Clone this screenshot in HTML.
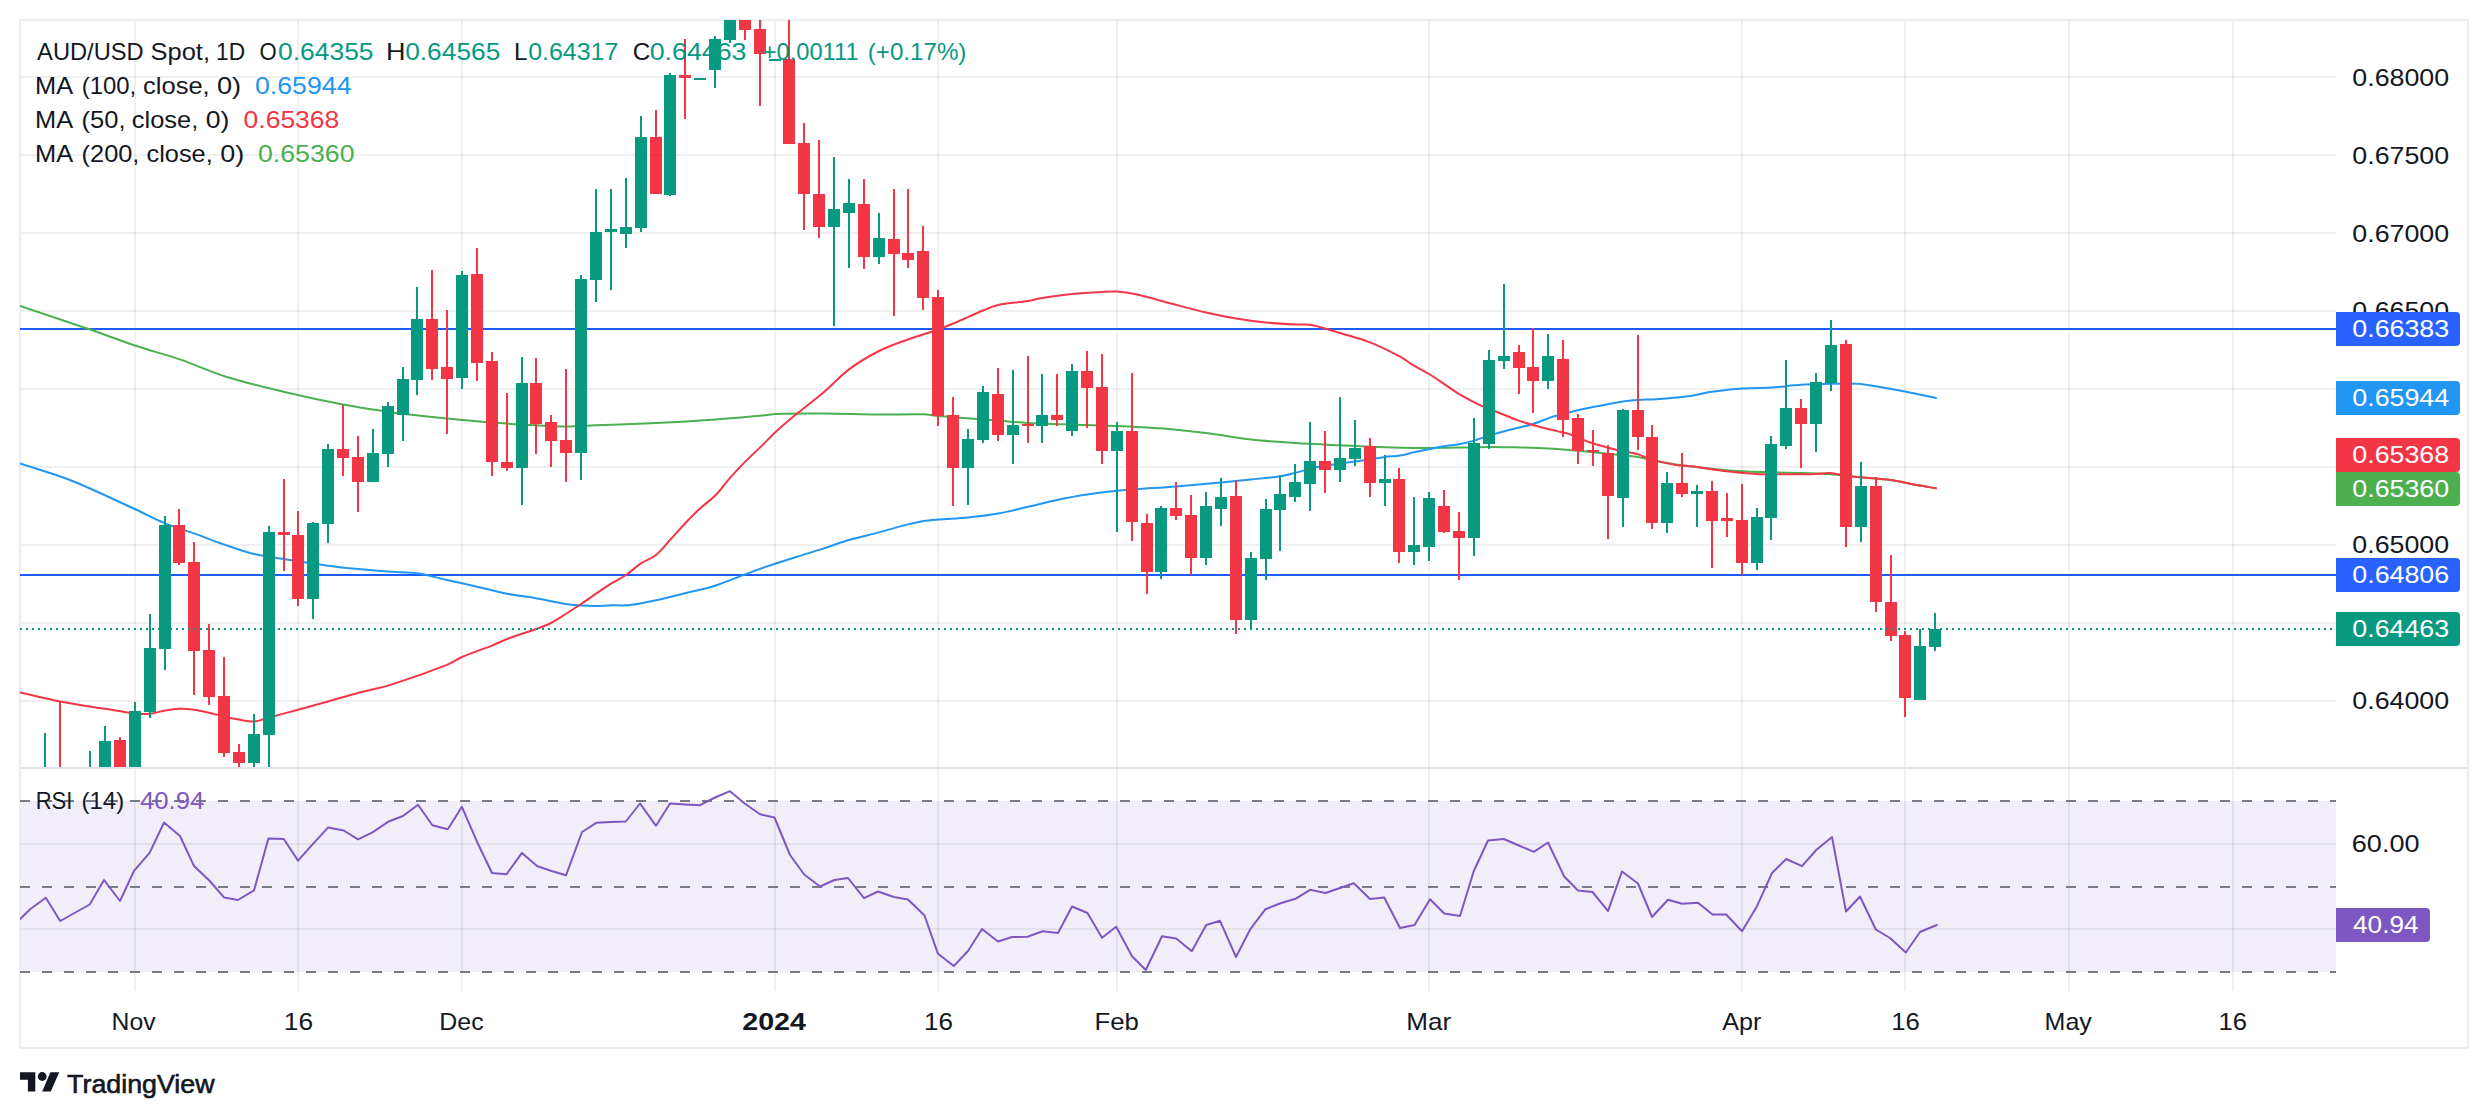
<!DOCTYPE html>
<html lang="en"><head><meta charset="utf-8"><title>AUD/USD Spot 1D chart</title>
<style>html,body{margin:0;padding:0;background:#fff;}body{width:2488px;height:1118px;overflow:hidden;}svg{display:block;}text{font-family:"Liberation Sans", Arial, sans-serif;}</style>
</head><body>
<svg width="2488" height="1118" viewBox="0 0 2488 1118">
<defs><clipPath id="main"><rect x="20" y="20" width="2316" height="747"/></clipPath><clipPath id="rsi"><rect x="20" y="768" width="2316" height="223"/></clipPath></defs>
<rect width="2488" height="1118" fill="#fff"/>
<rect x="20" y="801" width="2316" height="171" fill="#f1eefa"/>
<g fill="#000" fill-opacity="0.06" shape-rendering="crispEdges"><rect x="134" y="20" width="2" height="971" /><rect x="297" y="20" width="2" height="971" /><rect x="461" y="20" width="2" height="971" /><rect x="774" y="20" width="2" height="971" /><rect x="937" y="20" width="2" height="971" /><rect x="1116" y="20" width="2" height="971" /><rect x="1428" y="20" width="2" height="971" /><rect x="1741" y="20" width="2" height="971" /><rect x="1904" y="20" width="2" height="971" /><rect x="2068" y="20" width="2" height="971" /><rect x="2232" y="20" width="2" height="971" /><rect x="20" y="76" width="2316" height="2"/><rect x="20" y="154" width="2316" height="2"/><rect x="20" y="232" width="2316" height="2"/><rect x="20" y="310" width="2316" height="2"/><rect x="20" y="388" width="2316" height="2"/><rect x="20" y="466" width="2316" height="2"/><rect x="20" y="544" width="2316" height="2"/><rect x="20" y="622" width="2316" height="2"/><rect x="20" y="700" width="2316" height="2"/><rect x="20" y="843" width="2316" height="2"/><rect x="20" y="928" width="2316" height="2"/></g>
<g fill="#ecedf2" shape-rendering="crispEdges">
<rect x="19" y="19" width="2450" height="2"/>
<rect x="19" y="1047" width="2450" height="2"/>
<rect x="19" y="19" width="2" height="1030"/>
<rect x="2467" y="19" width="2" height="1030"/>
</g>
<rect x="21" y="767" width="2446" height="2" fill="#e0e3eb" shape-rendering="crispEdges"/>
<g fill="#1e5bfe" shape-rendering="crispEdges"><rect x="20" y="328" width="2316" height="2"/><rect x="20" y="574" width="2316" height="2"/></g>
<path clip-path="url(#main)" d="M20.0 306.0C43.3 313.8 66.7 321.5 90.0 329.5C104.9 334.6 119.9 340.5 134.8 345.5C149.8 350.5 164.7 354.3 179.7 359.4C195.1 364.7 210.6 371.9 226.0 376.7C245.5 382.8 265.1 387.3 284.6 392.0C304.0 396.6 323.4 400.8 342.8 404.6C356.1 407.2 369.4 408.8 382.7 411.0C385.8 411.5 388.9 412.2 392.0 412.6C410.3 414.8 428.7 416.8 447.0 418.6C462.0 420.1 477.0 421.5 492.0 422.6C506.7 423.7 521.3 424.5 536.0 425.3C545.9 425.8 555.8 426.6 565.7 426.6C575.8 426.6 585.9 425.7 596.0 425.3C616.0 424.5 636.0 423.9 656.0 423.0C673.3 422.2 690.7 421.2 708.0 420.0C726.7 418.7 745.3 417.0 764.0 415.3C767.9 415.0 771.7 414.1 775.6 414.0C791.7 413.5 807.9 413.5 824.0 413.6C842.3 413.7 860.7 414.5 879.0 414.6C893.9 414.7 908.8 413.9 923.7 414.3C928.5 414.4 933.2 415.6 938.0 416.0C946.6 416.8 955.1 417.3 963.7 418.0C975.1 418.9 986.6 419.7 998.0 420.6C1008.0 421.4 1018.0 422.4 1028.0 423.0C1039.8 423.7 1051.7 423.9 1063.5 424.3C1076.3 424.8 1089.2 425.1 1102.0 425.6C1113.3 426.0 1124.7 426.4 1136.0 427.0C1147.0 427.6 1158.0 428.1 1169.0 429.0C1181.3 430.1 1193.7 431.4 1206.0 433.0C1221.0 434.9 1236.0 437.9 1251.0 439.6C1265.7 441.2 1280.3 442.1 1295.0 443.0C1310.0 444.0 1325.0 444.6 1340.0 445.3C1355.0 446.0 1370.0 446.8 1385.0 447.3C1394.7 447.6 1404.3 447.9 1414.0 447.9C1429.0 448.0 1444.0 447.8 1459.0 447.6C1469.0 447.5 1479.0 447.0 1489.0 446.9C1495.3 446.8 1501.7 447.0 1508.0 447.2C1521.3 447.5 1534.7 447.7 1548.0 448.4C1558.0 448.9 1568.0 449.8 1578.0 450.7C1588.0 451.6 1598.0 452.6 1608.0 453.7C1618.0 454.8 1628.0 455.5 1638.0 457.0C1642.9 457.7 1647.7 459.5 1652.6 460.4C1662.4 462.2 1672.2 463.9 1682.0 465.3C1692.0 466.7 1702.0 467.7 1712.0 468.7C1722.0 469.7 1732.0 470.7 1742.0 471.3C1752.0 471.9 1762.0 472.0 1772.0 472.3C1781.7 472.6 1791.3 472.7 1801.0 473.0C1811.0 473.3 1821.0 473.7 1831.0 474.3C1836.0 474.6 1841.0 475.2 1846.0 475.7C1851.0 476.2 1856.0 476.8 1861.0 477.3C1870.8 478.3 1880.7 478.6 1890.5 480.0C1900.3 481.4 1910.2 483.8 1920.0 485.6C1925.3 486.6 1930.7 487.4 1936.0 488.3" fill="none" stroke="#4caf50" stroke-width="2" stroke-linejoin="round" stroke-linecap="round"/>
<path clip-path="url(#main)" d="M20.0 463.5C36.7 469.0 53.3 473.4 70.0 480.0C91.6 488.6 113.2 499.2 134.8 509.0C144.5 513.4 154.3 518.8 164.0 522.8C174.0 526.9 184.0 529.8 194.0 533.4C203.9 537.0 213.8 541.0 223.7 544.4C233.8 547.9 243.9 551.6 254.0 554.0C264.0 556.4 274.0 557.4 284.0 559.0C298.7 561.3 313.3 563.7 328.0 565.7C338.0 567.1 348.0 568.1 358.0 569.0C369.3 570.1 380.7 570.9 392.0 571.7C400.9 572.3 409.7 572.1 418.6 573.4C428.1 574.8 437.5 577.8 447.0 580.0C457.0 582.3 467.0 584.4 477.0 586.7C487.0 589.0 497.0 591.7 507.0 593.7C516.7 595.6 526.3 596.6 536.0 598.3C545.9 600.0 555.8 602.4 565.7 604.0C570.8 604.8 575.9 605.3 581.0 605.6C586.0 605.9 591.0 606.0 596.0 606.0C601.0 606.0 606.0 605.4 611.0 605.3C616.0 605.2 621.0 605.6 626.0 605.3C631.0 605.0 636.0 604.1 641.0 603.3C646.0 602.5 651.0 601.4 656.0 600.3C665.7 598.1 675.3 595.7 685.0 593.3C695.0 590.8 705.0 588.9 715.0 585.7C725.0 582.6 735.0 578.1 745.0 574.4C751.3 572.0 757.7 569.6 764.0 567.4C775.0 563.7 786.0 560.2 797.0 556.7C806.0 553.9 815.0 551.3 824.0 548.4C832.3 545.7 840.7 542.4 849.0 540.0C859.0 537.1 869.0 535.0 879.0 532.4C888.7 529.8 898.3 526.9 908.0 524.4C913.2 523.1 918.5 521.9 923.7 521.0C928.5 520.2 933.2 519.9 938.0 519.5C948.0 518.7 958.0 518.5 968.0 517.5C978.0 516.5 988.0 515.3 998.0 513.5C1008.0 511.7 1018.0 509.1 1028.0 506.8C1037.7 504.6 1047.3 502.0 1057.0 500.0C1067.0 497.9 1077.0 496.0 1087.0 494.5C1097.0 493.0 1107.0 491.9 1117.0 490.8C1123.3 490.1 1129.7 489.8 1136.0 489.3C1149.3 488.3 1162.7 487.6 1176.0 486.5C1191.0 485.3 1206.0 483.9 1221.0 482.5C1231.0 481.6 1241.0 480.6 1251.0 479.5C1260.9 478.5 1270.7 477.7 1280.6 476.2C1285.4 475.5 1290.2 474.1 1295.0 472.9C1300.0 471.7 1305.0 470.1 1310.0 468.9C1315.0 467.7 1320.0 466.4 1325.0 465.6C1335.0 464.0 1345.0 463.1 1355.0 461.6C1365.0 460.2 1375.0 458.2 1385.0 456.9C1390.0 456.2 1395.0 456.4 1400.0 455.6C1404.7 454.9 1409.3 453.3 1414.0 452.3C1424.0 450.2 1434.0 448.1 1444.0 446.3C1449.0 445.4 1454.0 445.2 1459.0 444.3C1464.0 443.4 1469.0 442.1 1474.0 440.6C1479.0 439.2 1484.0 437.1 1489.0 435.6C1495.3 433.7 1501.7 431.9 1508.0 430.2C1516.3 428.0 1524.7 426.5 1533.0 424.0C1538.7 422.3 1544.3 419.5 1550.0 417.6C1554.3 416.2 1558.7 415.2 1563.0 414.0C1567.9 412.7 1572.9 411.3 1577.8 410.2C1584.4 408.7 1590.9 407.5 1597.5 406.2C1606.0 404.6 1614.5 402.9 1623.0 401.5C1627.7 400.8 1632.3 400.2 1637.0 399.9C1643.5 399.5 1650.0 399.7 1656.5 399.3C1663.0 398.9 1669.5 398.2 1676.0 397.6C1680.7 397.1 1685.3 396.8 1690.0 396.0C1697.3 394.8 1704.7 392.9 1712.0 391.8C1722.0 390.4 1732.0 389.2 1742.0 388.5C1751.9 387.8 1761.7 388.1 1771.6 387.5C1781.4 386.9 1791.2 385.4 1801.0 384.8C1811.0 384.2 1821.0 384.1 1831.0 383.8C1836.0 383.7 1841.0 383.5 1846.0 383.5C1851.0 383.5 1856.0 383.5 1861.0 384.0C1867.3 384.7 1873.7 385.9 1880.0 387.0C1888.3 388.4 1896.7 389.9 1905.0 391.5C1915.3 393.5 1925.7 395.8 1936.0 398.0" fill="none" stroke="#2196f3" stroke-width="2" stroke-linejoin="round" stroke-linecap="round"/>
<path clip-path="url(#main)" d="M20.0 692.5C33.3 695.5 46.7 698.9 60.0 701.5C75.0 704.4 90.0 706.4 105.0 708.8C114.9 710.4 124.9 712.4 134.8 713.5C139.8 714.1 144.8 714.3 149.8 713.8C154.5 713.4 159.3 711.6 164.0 710.8C169.0 709.9 174.0 709.0 179.0 708.8C184.0 708.6 189.0 709.1 194.0 709.8C199.0 710.5 204.0 711.7 209.0 712.8C214.0 713.9 219.0 715.4 224.0 716.5C228.9 717.6 233.7 718.7 238.6 719.5C243.7 720.4 248.9 721.8 254.0 721.5C259.0 721.2 264.0 718.8 269.0 717.5C278.7 714.9 288.3 712.4 298.0 709.8C308.0 707.1 318.0 704.3 328.0 701.5C338.0 698.7 348.0 695.7 358.0 693.0C369.3 690.0 380.7 688.0 392.0 684.4C410.3 678.6 428.7 672.1 447.0 664.9C452.0 662.9 457.0 659.1 462.0 657.0C472.0 652.7 482.0 649.6 492.0 645.6C497.0 643.6 502.0 640.9 507.0 639.0C516.7 635.4 526.3 632.5 536.0 629.0C541.0 627.2 546.0 625.5 551.0 623.0C555.9 620.5 560.8 617.1 565.7 614.0C570.8 610.8 575.9 607.4 581.0 604.0C586.0 600.7 591.0 597.1 596.0 593.7C601.0 590.3 606.0 586.8 611.0 583.7C616.0 580.6 621.0 578.4 626.0 575.0C631.0 571.6 636.0 566.7 641.0 563.4C646.0 560.1 651.0 559.0 656.0 555.0C660.7 551.2 665.3 545.1 670.0 540.0C675.0 534.6 680.0 528.8 685.0 523.5C690.0 518.2 695.0 513.1 700.0 508.5C705.0 503.9 710.0 500.9 715.0 495.8C720.0 490.7 725.0 483.5 730.0 477.9C735.0 472.2 740.0 466.9 745.0 461.9C751.3 455.5 757.7 449.8 764.0 443.6C767.9 439.8 771.7 435.5 775.6 432.0C782.7 425.5 789.9 419.5 797.0 413.6C806.0 406.2 815.0 399.7 824.0 392.0C832.3 384.9 840.7 375.6 849.0 369.4C859.0 361.9 869.0 356.1 879.0 351.0C888.7 346.1 898.3 343.0 908.0 339.5C918.0 335.9 928.0 333.1 938.0 329.5C944.3 327.2 950.7 324.7 957.0 322.0C965.7 318.3 974.3 314.1 983.0 310.5C988.0 308.4 993.0 306.1 998.0 305.0C1008.0 302.9 1018.0 302.6 1028.0 301.0C1032.7 300.2 1037.3 298.7 1042.0 297.9C1052.0 296.3 1062.0 294.9 1072.0 293.9C1082.0 292.9 1092.0 292.4 1102.0 291.9C1107.0 291.6 1112.0 291.1 1117.0 291.5C1123.3 291.9 1129.7 292.9 1136.0 294.3C1147.0 296.7 1158.0 300.1 1169.0 303.0C1181.3 306.2 1193.7 309.6 1206.0 312.5C1216.0 314.8 1226.0 316.8 1236.0 318.5C1246.0 320.2 1256.0 321.5 1266.0 322.5C1275.7 323.5 1285.3 324.0 1295.0 324.5C1300.0 324.8 1305.0 324.1 1310.0 324.8C1315.0 325.5 1320.0 327.1 1325.0 328.5C1330.0 329.9 1335.0 331.5 1340.0 333.0C1350.0 336.1 1360.0 338.5 1370.0 342.4C1379.9 346.3 1389.7 351.2 1399.6 356.4C1404.4 358.9 1409.2 362.8 1414.0 365.7C1419.0 368.7 1424.0 371.0 1429.0 374.0C1432.7 376.2 1436.3 378.8 1440.0 381.2C1446.6 385.6 1453.1 390.5 1459.7 394.4C1466.3 398.3 1472.8 401.7 1479.4 404.8C1485.9 407.8 1492.5 410.1 1499.0 412.7C1505.6 415.3 1512.1 418.3 1518.7 420.6C1525.3 422.9 1531.8 424.7 1538.4 426.5C1544.9 428.3 1551.5 429.8 1558.0 431.4C1562.0 432.4 1566.0 433.0 1570.0 434.4C1576.5 436.6 1583.1 440.0 1589.6 442.2C1598.7 445.2 1607.9 447.7 1617.0 450.0C1623.7 451.7 1630.3 452.3 1637.0 454.0C1639.6 454.6 1642.1 456.1 1644.7 457.0C1648.6 458.4 1652.6 459.9 1656.5 460.9C1663.0 462.5 1669.5 463.9 1676.0 464.9C1680.7 465.7 1685.3 465.8 1690.0 466.3C1692.3 466.5 1694.7 466.7 1697.0 467.0C1707.0 468.4 1717.0 470.1 1727.0 471.3C1737.0 472.5 1747.0 473.5 1757.0 474.0C1766.7 474.5 1776.3 474.3 1786.0 474.3C1796.0 474.3 1806.0 474.3 1816.0 474.0C1820.7 473.9 1825.3 472.7 1830.0 473.0C1835.3 473.3 1840.7 475.0 1846.0 475.7C1851.0 476.4 1856.0 476.8 1861.0 477.3C1870.8 478.3 1880.7 478.6 1890.5 480.0C1900.3 481.4 1910.2 483.8 1920.0 485.6C1925.3 486.6 1930.7 487.4 1936.0 488.3" fill="none" stroke="#f23645" stroke-width="2" stroke-linejoin="round" stroke-linecap="round"/>
<g clip-path="url(#main)" shape-rendering="crispEdges"><g fill="#089981"><rect x="44" y="733" width="2" height="67"/><rect x="39" y="790" width="12" height="10"/><rect x="89" y="751" width="2" height="49"/><rect x="84" y="790" width="12" height="10"/><rect x="104" y="726" width="2" height="74"/><rect x="99" y="741" width="12" height="59"/><rect x="134" y="702" width="2" height="98"/><rect x="129" y="711" width="12" height="89"/><rect x="149" y="614" width="2" height="104"/><rect x="144" y="648" width="12" height="64"/><rect x="164" y="516" width="2" height="154"/><rect x="159" y="525" width="12" height="124"/><rect x="253" y="714" width="2" height="76"/><rect x="248" y="734" width="12" height="29"/><rect x="268" y="526" width="2" height="254"/><rect x="263" y="532" width="12" height="203"/><rect x="312" y="522" width="2" height="97"/><rect x="307" y="523" width="12" height="76"/><rect x="327" y="444" width="2" height="99"/><rect x="322" y="449" width="12" height="75"/><rect x="372" y="429" width="2" height="53"/><rect x="367" y="453" width="12" height="29"/><rect x="387" y="402" width="2" height="65"/><rect x="382" y="406" width="12" height="48"/><rect x="402" y="367" width="2" height="74"/><rect x="397" y="379" width="12" height="36"/><rect x="416" y="287" width="2" height="108"/><rect x="411" y="319" width="12" height="61"/><rect x="461" y="271" width="2" height="118"/><rect x="456" y="275" width="12" height="103"/><rect x="521" y="357" width="2" height="148"/><rect x="516" y="383" width="12" height="85"/><rect x="580" y="275" width="2" height="205"/><rect x="575" y="279" width="12" height="174"/><rect x="595" y="189" width="2" height="113"/><rect x="590" y="232" width="12" height="48"/><rect x="610" y="189" width="2" height="101"/><rect x="605" y="229" width="12" height="3"/><rect x="625" y="178" width="2" height="70"/><rect x="620" y="227" width="12" height="7"/><rect x="640" y="116" width="2" height="116"/><rect x="635" y="137" width="12" height="91"/><rect x="669" y="73" width="2" height="123"/><rect x="664" y="75" width="12" height="120"/><rect x="699" y="78" width="2" height="2"/><rect x="694" y="78" width="12" height="2"/><rect x="714" y="36" width="2" height="52"/><rect x="709" y="39" width="12" height="31"/><rect x="729" y="10" width="2" height="33"/><rect x="724" y="10" width="12" height="30"/><rect x="774" y="59" width="2" height="2"/><rect x="769" y="59" width="12" height="2"/><rect x="833" y="157" width="2" height="169"/><rect x="828" y="209" width="12" height="18"/><rect x="848" y="179" width="2" height="89"/><rect x="843" y="203" width="12" height="10"/><rect x="878" y="213" width="2" height="51"/><rect x="873" y="238" width="12" height="19"/><rect x="967" y="429" width="2" height="76"/><rect x="962" y="439" width="12" height="29"/><rect x="982" y="386" width="2" height="57"/><rect x="977" y="392" width="12" height="48"/><rect x="1012" y="370" width="2" height="94"/><rect x="1007" y="425" width="12" height="10"/><rect x="1041" y="374" width="2" height="69"/><rect x="1036" y="415" width="12" height="11"/><rect x="1071" y="364" width="2" height="72"/><rect x="1066" y="371" width="12" height="60"/><rect x="1116" y="422" width="2" height="110"/><rect x="1111" y="431" width="12" height="20"/><rect x="1160" y="506" width="2" height="73"/><rect x="1155" y="508" width="12" height="64"/><rect x="1205" y="492" width="2" height="73"/><rect x="1200" y="506" width="12" height="52"/><rect x="1220" y="478" width="2" height="48"/><rect x="1215" y="497" width="12" height="12"/><rect x="1250" y="552" width="2" height="78"/><rect x="1245" y="558" width="12" height="62"/><rect x="1265" y="499" width="2" height="81"/><rect x="1260" y="509" width="12" height="50"/><rect x="1279" y="475" width="2" height="76"/><rect x="1274" y="494" width="12" height="16"/><rect x="1294" y="464" width="2" height="38"/><rect x="1289" y="482" width="12" height="15"/><rect x="1309" y="422" width="2" height="89"/><rect x="1304" y="461" width="12" height="23"/><rect x="1339" y="397" width="2" height="85"/><rect x="1334" y="458" width="12" height="12"/><rect x="1354" y="420" width="2" height="46"/><rect x="1349" y="448" width="12" height="11"/><rect x="1384" y="455" width="2" height="51"/><rect x="1379" y="479" width="12" height="4"/><rect x="1413" y="497" width="2" height="68"/><rect x="1408" y="545" width="12" height="7"/><rect x="1428" y="492" width="2" height="69"/><rect x="1423" y="498" width="12" height="49"/><rect x="1473" y="418" width="2" height="138"/><rect x="1468" y="443" width="12" height="95"/><rect x="1488" y="350" width="2" height="99"/><rect x="1483" y="360" width="12" height="84"/><rect x="1503" y="284" width="2" height="85"/><rect x="1498" y="356" width="12" height="5"/><rect x="1547" y="334" width="2" height="55"/><rect x="1542" y="356" width="12" height="25"/><rect x="1622" y="409" width="2" height="118"/><rect x="1617" y="410" width="12" height="88"/><rect x="1666" y="472" width="2" height="61"/><rect x="1661" y="483" width="12" height="40"/><rect x="1696" y="485" width="2" height="42"/><rect x="1691" y="491" width="12" height="3"/><rect x="1756" y="508" width="2" height="62"/><rect x="1751" y="517" width="12" height="46"/><rect x="1770" y="436" width="2" height="104"/><rect x="1765" y="444" width="12" height="74"/><rect x="1785" y="360" width="2" height="89"/><rect x="1780" y="408" width="12" height="38"/><rect x="1815" y="373" width="2" height="79"/><rect x="1810" y="382" width="12" height="42"/><rect x="1830" y="320" width="2" height="71"/><rect x="1825" y="345" width="12" height="38"/><rect x="1860" y="462" width="2" height="80"/><rect x="1855" y="486" width="12" height="41"/><rect x="1919" y="629" width="2" height="71"/><rect x="1914" y="646" width="12" height="54"/><rect x="1934" y="613" width="2" height="38"/><rect x="1929" y="629" width="12" height="18"/></g><g fill="#f23645"><rect x="59" y="702" width="2" height="98"/><rect x="54" y="790" width="12" height="10"/><rect x="119" y="737" width="2" height="63"/><rect x="114" y="740" width="12" height="60"/><rect x="178" y="509" width="2" height="56"/><rect x="173" y="525" width="12" height="38"/><rect x="193" y="542" width="2" height="153"/><rect x="188" y="562" width="12" height="89"/><rect x="208" y="624" width="2" height="81"/><rect x="203" y="650" width="12" height="47"/><rect x="223" y="657" width="2" height="100"/><rect x="218" y="696" width="12" height="57"/><rect x="238" y="744" width="2" height="46"/><rect x="233" y="752" width="12" height="11"/><rect x="283" y="479" width="2" height="92"/><rect x="278" y="532" width="12" height="3"/><rect x="297" y="511" width="2" height="95"/><rect x="292" y="535" width="12" height="64"/><rect x="342" y="405" width="2" height="71"/><rect x="337" y="449" width="12" height="9"/><rect x="357" y="436" width="2" height="76"/><rect x="352" y="457" width="12" height="25"/><rect x="431" y="270" width="2" height="110"/><rect x="426" y="319" width="12" height="50"/><rect x="446" y="310" width="2" height="124"/><rect x="441" y="367" width="12" height="12"/><rect x="476" y="248" width="2" height="133"/><rect x="471" y="274" width="12" height="89"/><rect x="491" y="352" width="2" height="124"/><rect x="486" y="361" width="12" height="101"/><rect x="506" y="393" width="2" height="78"/><rect x="501" y="462" width="12" height="6"/><rect x="535" y="358" width="2" height="96"/><rect x="530" y="383" width="12" height="41"/><rect x="550" y="415" width="2" height="52"/><rect x="545" y="422" width="12" height="19"/><rect x="565" y="369" width="2" height="113"/><rect x="560" y="440" width="12" height="13"/><rect x="655" y="110" width="2" height="84"/><rect x="650" y="137" width="12" height="57"/><rect x="684" y="39" width="2" height="80"/><rect x="679" y="75" width="12" height="3"/><rect x="744" y="10" width="2" height="30"/><rect x="739" y="10" width="12" height="20"/><rect x="759" y="10" width="2" height="96"/><rect x="754" y="29" width="12" height="25"/><rect x="788" y="10" width="2" height="134"/><rect x="783" y="59" width="12" height="85"/><rect x="803" y="123" width="2" height="107"/><rect x="798" y="143" width="12" height="51"/><rect x="818" y="140" width="2" height="98"/><rect x="813" y="194" width="12" height="33"/><rect x="863" y="179" width="2" height="90"/><rect x="858" y="204" width="12" height="53"/><rect x="893" y="189" width="2" height="127"/><rect x="888" y="239" width="12" height="15"/><rect x="907" y="189" width="2" height="79"/><rect x="902" y="253" width="12" height="7"/><rect x="922" y="226" width="2" height="84"/><rect x="917" y="251" width="12" height="47"/><rect x="937" y="290" width="2" height="136"/><rect x="932" y="297" width="12" height="119"/><rect x="952" y="397" width="2" height="109"/><rect x="947" y="415" width="12" height="53"/><rect x="997" y="368" width="2" height="73"/><rect x="992" y="394" width="12" height="41"/><rect x="1027" y="356" width="2" height="87"/><rect x="1022" y="424" width="12" height="2"/><rect x="1056" y="374" width="2" height="52"/><rect x="1051" y="415" width="12" height="5"/><rect x="1086" y="351" width="2" height="77"/><rect x="1081" y="371" width="12" height="17"/><rect x="1101" y="354" width="2" height="110"/><rect x="1096" y="387" width="12" height="64"/><rect x="1131" y="373" width="2" height="168"/><rect x="1126" y="431" width="12" height="91"/><rect x="1146" y="514" width="2" height="80"/><rect x="1141" y="523" width="12" height="49"/><rect x="1175" y="482" width="2" height="38"/><rect x="1170" y="508" width="12" height="8"/><rect x="1190" y="495" width="2" height="80"/><rect x="1185" y="515" width="12" height="43"/><rect x="1235" y="480" width="2" height="154"/><rect x="1230" y="496" width="12" height="124"/><rect x="1324" y="431" width="2" height="62"/><rect x="1319" y="461" width="12" height="9"/><rect x="1369" y="438" width="2" height="59"/><rect x="1364" y="446" width="12" height="37"/><rect x="1398" y="468" width="2" height="95"/><rect x="1393" y="479" width="12" height="73"/><rect x="1443" y="490" width="2" height="43"/><rect x="1438" y="506" width="12" height="26"/><rect x="1458" y="512" width="2" height="68"/><rect x="1453" y="531" width="12" height="7"/><rect x="1518" y="345" width="2" height="49"/><rect x="1513" y="352" width="12" height="16"/><rect x="1532" y="328" width="2" height="85"/><rect x="1527" y="367" width="12" height="14"/><rect x="1562" y="340" width="2" height="97"/><rect x="1557" y="359" width="12" height="61"/><rect x="1577" y="414" width="2" height="50"/><rect x="1572" y="418" width="12" height="33"/><rect x="1592" y="430" width="2" height="36"/><rect x="1587" y="450" width="12" height="2"/><rect x="1607" y="445" width="2" height="94"/><rect x="1602" y="453" width="12" height="43"/><rect x="1637" y="335" width="2" height="115"/><rect x="1632" y="410" width="12" height="27"/><rect x="1651" y="425" width="2" height="104"/><rect x="1646" y="437" width="12" height="86"/><rect x="1681" y="453" width="2" height="44"/><rect x="1676" y="483" width="12" height="11"/><rect x="1711" y="481" width="2" height="87"/><rect x="1706" y="491" width="12" height="30"/><rect x="1726" y="493" width="2" height="44"/><rect x="1721" y="518" width="12" height="3"/><rect x="1741" y="484" width="2" height="91"/><rect x="1736" y="520" width="12" height="43"/><rect x="1800" y="399" width="2" height="69"/><rect x="1795" y="408" width="12" height="16"/><rect x="1845" y="340" width="2" height="207"/><rect x="1840" y="344" width="12" height="183"/><rect x="1875" y="477" width="2" height="135"/><rect x="1870" y="486" width="12" height="116"/><rect x="1890" y="555" width="2" height="86"/><rect x="1885" y="602" width="12" height="34"/><rect x="1904" y="631" width="2" height="86"/><rect x="1899" y="635" width="12" height="63"/></g></g>
<line x1="20" y1="629" x2="2336" y2="629" stroke="#089981" stroke-width="2" stroke-dasharray="2 4" shape-rendering="crispEdges"/>
<line x1="20" y1="801" x2="2336" y2="801" stroke="#787b86" stroke-width="2" stroke-dasharray="10 12" shape-rendering="crispEdges"/>
<line x1="20" y1="887" x2="2336" y2="887" stroke="#787b86" stroke-width="2" stroke-dasharray="10 12" shape-rendering="crispEdges"/>
<line x1="20" y1="972" x2="2336" y2="972" stroke="#787b86" stroke-width="2" stroke-dasharray="10 12" shape-rendering="crispEdges"/>
<polyline clip-path="url(#rsi)" points="19.9,919.2 30.4,909.0 45.8,897.7 60.2,921.0 89.7,904.5 104.0,880.0 120.0,901.0 134.0,870.8 149.6,852.9 164.0,822.5 180.0,836.0 193.8,865.7 209.8,881.0 224.0,897.4 238.0,900.0 254.0,890.4 268.4,838.5 283.8,839.0 298.0,860.6 313.0,843.9 328.0,827.6 343.7,830.5 358.0,839.4 372.5,832.4 388.0,821.8 403.0,816.0 418.0,804.8 432.4,825.3 447.8,829.2 461.9,806.8 477.0,841.7 492.0,873.0 506.4,874.3 522.0,852.9 537.0,866.0 551.6,871.0 566.0,875.3 582.0,832.0 596.2,822.8 610.5,822.0 625.8,821.5 640.0,803.5 656.0,825.8 670.0,803.5 685.0,804.5 700.0,805.2 715.0,797.5 730.0,791.2 745.0,803.8 760.0,814.2 774.5,817.5 790.0,855.0 804.2,874.5 820.0,886.5 834.5,880.0 848.0,878.0 864.0,898.2 878.0,891.5 893.8,897.0 908.0,899.5 924.5,915.5 938.0,953.8 953.8,966.0 968.0,951.0 982.0,929.0 998.0,941.5 1012.0,937.0 1027.5,936.8 1042.5,931.2 1058.0,933.0 1072.0,906.5 1087.5,913.0 1102.0,937.8 1116.2,926.8 1132.0,956.2 1145.8,970.0 1162.0,936.2 1176.2,938.5 1191.8,951.2 1206.2,925.0 1220.0,920.8 1236.0,957.0 1250.5,928.8 1265.5,909.2 1280.5,903.2 1295.5,898.8 1310.0,889.8 1325.5,893.0 1340.0,888.0 1353.8,883.2 1370.0,899.0 1384.2,897.5 1400.0,928.0 1414.5,925.0 1430.0,899.2 1444.2,913.5 1460.0,916.0 1473.8,871.0 1488.0,840.5 1503.8,839.0 1518.8,845.5 1533.8,851.8 1548.0,842.5 1564.2,876.5 1578.0,890.5 1592.5,892.0 1608.0,911.2 1622.0,871.5 1638.0,883.5 1652.0,917.0 1668.0,899.8 1682.0,903.8 1698.0,902.8 1712.5,914.5 1726.2,914.5 1742.0,931.2 1757.0,906.2 1772.0,873.0 1786.2,859.0 1802.0,866.2 1816.2,850.0 1832.0,837.0 1846.0,911.5 1860.0,896.5 1875.8,929.5 1890.0,938.0 1905.8,952.5 1920.0,932.0 1936.8,925.0" fill="none" stroke="#7e57c2" stroke-width="2" stroke-linejoin="round" stroke-linecap="round"/>
<text y="86.0" font-size="24"><tspan x="2352.3" fill="#131722" textLength="96.9" lengthAdjust="spacingAndGlyphs">0.68000</tspan></text>
<text y="164.0" font-size="24"><tspan x="2352.3" fill="#131722" textLength="96.9" lengthAdjust="spacingAndGlyphs">0.67500</tspan></text>
<text y="242.0" font-size="24"><tspan x="2352.3" fill="#131722" textLength="96.9" lengthAdjust="spacingAndGlyphs">0.67000</tspan></text>
<text y="319.0" font-size="24"><tspan x="2352.3" fill="#131722" textLength="96.9" lengthAdjust="spacingAndGlyphs">0.66500</tspan></text>
<text y="397.7" font-size="24"><tspan x="2352.3" fill="#131722" textLength="96.9" lengthAdjust="spacingAndGlyphs">0.66000</tspan></text>
<text y="553.0" font-size="24"><tspan x="2352.3" fill="#131722" textLength="96.9" lengthAdjust="spacingAndGlyphs">0.65000</tspan></text>
<text y="709.0" font-size="24"><tspan x="2352.3" fill="#131722" textLength="96.9" lengthAdjust="spacingAndGlyphs">0.64000</tspan></text>
<text y="852.0" font-size="24"><tspan x="2351.8" fill="#131722" textLength="67.7" lengthAdjust="spacingAndGlyphs">60.00</tspan></text>
<text y="1029.9" font-size="24"><tspan x="111.6" fill="#131722" textLength="44.0" lengthAdjust="spacingAndGlyphs">Nov</tspan></text>
<text y="1029.9" font-size="24"><tspan x="283.8" fill="#131722" textLength="29.3" lengthAdjust="spacingAndGlyphs">16</tspan></text>
<text y="1029.9" font-size="24"><tspan x="439.3" fill="#131722" textLength="44.4" lengthAdjust="spacingAndGlyphs">Dec</tspan></text>
<text y="1029.9" font-size="24"><tspan x="923.9" fill="#131722" textLength="29.0" lengthAdjust="spacingAndGlyphs">16</tspan></text>
<text y="1029.9" font-size="24"><tspan x="1094.4" fill="#131722" textLength="44.4" lengthAdjust="spacingAndGlyphs">Feb</tspan></text>
<text y="1029.9" font-size="24"><tspan x="1406.2" fill="#131722" textLength="44.9" lengthAdjust="spacingAndGlyphs">Mar</tspan></text>
<text y="1029.9" font-size="24"><tspan x="1722.3" fill="#131722" textLength="39.1" lengthAdjust="spacingAndGlyphs">Apr</tspan></text>
<text y="1029.9" font-size="24"><tspan x="1891.3" fill="#131722" textLength="28.6" lengthAdjust="spacingAndGlyphs">16</tspan></text>
<text y="1029.9" font-size="24"><tspan x="2044.6" fill="#131722" textLength="47.2" lengthAdjust="spacingAndGlyphs">May</tspan></text>
<text y="1029.9" font-size="24"><tspan x="2218.5" fill="#131722" textLength="28.5" lengthAdjust="spacingAndGlyphs">16</tspan></text>
<text y="1029.9" font-size="24" font-weight="bold"><tspan x="742.2" fill="#131722" textLength="63.8" lengthAdjust="spacingAndGlyphs">2024</tspan></text>
<text y="59.8" font-size="24"><tspan x="37.1" fill="#131722" textLength="106.5" lengthAdjust="spacingAndGlyphs">AUD/USD</tspan> <tspan x="150.5" fill="#131722" textLength="59.5" lengthAdjust="spacingAndGlyphs">Spot,</tspan> <tspan x="216.1" fill="#131722" textLength="29.0" lengthAdjust="spacingAndGlyphs">1D</tspan> <tspan x="259.6" fill="#131722" textLength="17.2" lengthAdjust="spacingAndGlyphs">O</tspan><tspan x="278.1" fill="#089981" textLength="95.4" lengthAdjust="spacingAndGlyphs">0.64355</tspan> <tspan x="386.0" fill="#131722" textLength="19.5" lengthAdjust="spacingAndGlyphs">H</tspan><tspan x="405.2" fill="#089981" textLength="95.1" lengthAdjust="spacingAndGlyphs">0.64565</tspan> <tspan x="514.1" fill="#131722" textLength="13.5" lengthAdjust="spacingAndGlyphs">L</tspan><tspan x="528.2" fill="#089981" textLength="90.2" lengthAdjust="spacingAndGlyphs">0.64317</tspan> <tspan x="632.7" fill="#131722" textLength="17.5" lengthAdjust="spacingAndGlyphs">C</tspan><tspan x="649.7" fill="#089981" textLength="96.8" lengthAdjust="spacingAndGlyphs">0.64463</tspan> <tspan x="762.7" fill="#089981" textLength="95.9" lengthAdjust="spacingAndGlyphs">+0.00111</tspan> <tspan x="867.8" fill="#089981" textLength="98.6" lengthAdjust="spacingAndGlyphs">(+0.17%)</tspan></text>
<text y="93.9" font-size="24"><tspan x="35.1" fill="#131722" textLength="36.7" lengthAdjust="spacingAndGlyphs">MA</tspan> <tspan x="81.7" fill="#131722" textLength="54.5" lengthAdjust="spacingAndGlyphs">(100,</tspan> <tspan x="143.1" fill="#131722" textLength="66.6" lengthAdjust="spacingAndGlyphs">close,</tspan> <tspan x="216.9" fill="#131722" textLength="24.2" lengthAdjust="spacingAndGlyphs">0)</tspan> <tspan x="255.0" fill="#2196f3" textLength="96.5" lengthAdjust="spacingAndGlyphs">0.65944</tspan></text>
<text y="127.9" font-size="24"><tspan x="35.1" fill="#131722" textLength="36.7" lengthAdjust="spacingAndGlyphs">MA</tspan> <tspan x="81.6" fill="#131722" textLength="44.0" lengthAdjust="spacingAndGlyphs">(50,</tspan> <tspan x="131.8" fill="#131722" textLength="66.5" lengthAdjust="spacingAndGlyphs">close,</tspan> <tspan x="205.8" fill="#131722" textLength="23.7" lengthAdjust="spacingAndGlyphs">0)</tspan> <tspan x="243.6" fill="#f23645" textLength="95.7" lengthAdjust="spacingAndGlyphs">0.65368</tspan></text>
<text y="161.6" font-size="24"><tspan x="35.1" fill="#131722" textLength="36.7" lengthAdjust="spacingAndGlyphs">MA</tspan> <tspan x="81.6" fill="#131722" textLength="57.8" lengthAdjust="spacingAndGlyphs">(200,</tspan> <tspan x="146.5" fill="#131722" textLength="66.2" lengthAdjust="spacingAndGlyphs">close,</tspan> <tspan x="220.3" fill="#131722" textLength="23.9" lengthAdjust="spacingAndGlyphs">0)</tspan> <tspan x="258.0" fill="#4caf50" textLength="96.5" lengthAdjust="spacingAndGlyphs">0.65360</tspan></text>
<text y="808.9" font-size="24"><tspan x="35.7" fill="#131722" textLength="36.7" lengthAdjust="spacingAndGlyphs">RSI</tspan> <tspan x="81.5" fill="#131722" textLength="42.7" lengthAdjust="spacingAndGlyphs">(14)</tspan> <tspan x="140.0" fill="#7e57c2" textLength="64.4" lengthAdjust="spacingAndGlyphs">40.94</tspan></text>
<text y="1092.9" font-size="26" stroke="#131722" stroke-width="0.6"><tspan x="67.1" fill="#131722" textLength="147.4" lengthAdjust="spacingAndGlyphs">TradingView</tspan></text>
<path d="M2336 312 H2456 a4 4 0 0 1 4 4 V342 a4 4 0 0 1 -4 4 H2336 Z" fill="#2962ff"/><path d="M2336 381 H2456 a4 4 0 0 1 4 4 V411 a4 4 0 0 1 -4 4 H2336 Z" fill="#2196f3"/><path d="M2336 438 H2456 a4 4 0 0 1 4 4 V468 a4 4 0 0 1 -4 4 H2336 Z" fill="#f23645"/><path d="M2336 472 H2456 a4 4 0 0 1 4 4 V502 a4 4 0 0 1 -4 4 H2336 Z" fill="#4caf50"/><path d="M2336 558 H2456 a4 4 0 0 1 4 4 V588 a4 4 0 0 1 -4 4 H2336 Z" fill="#2962ff"/><path d="M2336 612 H2456 a4 4 0 0 1 4 4 V642 a4 4 0 0 1 -4 4 H2336 Z" fill="#089981"/><path d="M2336 908 H2426 a4 4 0 0 1 4 4 V938 a4 4 0 0 1 -4 4 H2336 Z" fill="#7e57c2"/>
<text y="337.0" font-size="24"><tspan x="2352.3" fill="#fff" textLength="96.9" lengthAdjust="spacingAndGlyphs">0.66383</tspan></text>
<text y="406.0" font-size="24"><tspan x="2352.3" fill="#fff" textLength="96.9" lengthAdjust="spacingAndGlyphs">0.65944</tspan></text>
<text y="463.0" font-size="24"><tspan x="2352.3" fill="#fff" textLength="96.9" lengthAdjust="spacingAndGlyphs">0.65368</tspan></text>
<text y="497.0" font-size="24"><tspan x="2352.3" fill="#fff" textLength="96.9" lengthAdjust="spacingAndGlyphs">0.65360</tspan></text>
<text y="583.0" font-size="24"><tspan x="2352.3" fill="#fff" textLength="96.9" lengthAdjust="spacingAndGlyphs">0.64806</tspan></text>
<text y="637.0" font-size="24"><tspan x="2352.3" fill="#fff" textLength="96.9" lengthAdjust="spacingAndGlyphs">0.64463</tspan></text>
<text y="933.0" font-size="24"><tspan x="2353.0" fill="#fff" textLength="65.6" lengthAdjust="spacingAndGlyphs">40.94</tspan></text>
<g fill="#131722"><path d="M20 1072.2 H35.3 V1091.5 H27.9 V1079.7 H20 Z"/><circle cx="42.2" cy="1076.5" r="4.4"/><path d="M50.4 1072.2 H59.2 L50.8 1091.5 H42.2 Z"/></g>
</svg></body></html>
